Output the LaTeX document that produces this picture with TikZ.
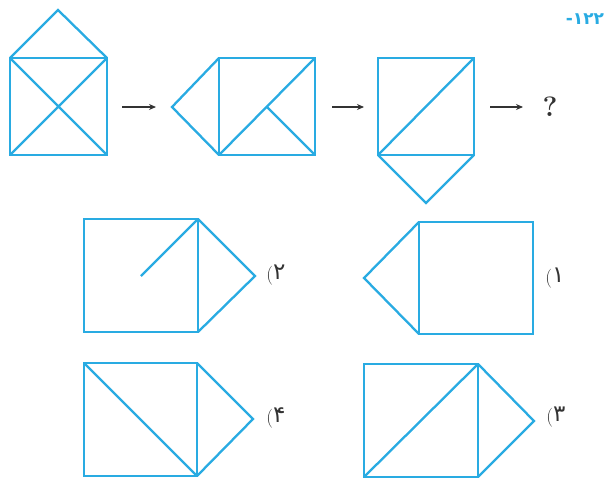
\documentclass[tikz,border=0pt]{standalone}
\usepackage{fontspec}
\newfontfamily\fadig{DejaVu Sans}
\usetikzlibrary{arrows.meta}
\definecolor{figblue}{HTML}{29ABE2}
\definecolor{darkgr}{HTML}{333333}
\newcommand{\optdig}[1]{(\raisebox{1pt}{\fadig\fontsize{23}{23}\selectfont #1}}
\tikzset{
  fig/.style={draw=figblue, line width=2.3pt, line join=miter},
  seqarrow/.style={draw=darkgr, line width=1.1pt, -{Stealth[length=7pt,width=6pt]}},
  optlabel/.style={text=darkgr, font=\fontsize{19}{19}\selectfont, inner sep=0pt},
}
\begin{document}
\begin{tikzpicture}[x=1pt,y=-1pt]
\useasboundingbox (0,0) rectangle (608,480);
% title
\node[text=figblue, font=\fadig\bfseries\fontsize{17}{17}\selectfont, inner sep=0pt] (title) at (585,19) {-۱۲۲};
% figure 1
\draw[fig] (10,58) rectangle (107,155);
\draw[fig] (10,58) -- (58,10) -- (107,58);
\draw[fig] (10,58) -- (107,155) (107,58) -- (10,155);
% figure 2
\draw[fig] (219,58) rectangle (315,155);
\draw[fig] (219,58) -- (172,107) -- (219,155);
\draw[fig] (219,155) -- (315,58) (267,107) -- (315,155);
% figure 3
\draw[fig] (378,58) rectangle (474,155);
\draw[fig] (378,155) -- (426,203) -- (474,155);
\draw[fig] (378,155) -- (474,58);
% arrows
\coordinate (a1s) at (122,107); \coordinate (a1e) at (156,107);
\coordinate (a2s) at (332,107); \coordinate (a2e) at (364,107);
\coordinate (a3s) at (490,107); \coordinate (a3e) at (523,107);
\draw[seqarrow] (a1s) -- (a1e);
\draw[seqarrow] (a2s) -- (a2e);
\draw[seqarrow] (a3s) -- (a3e);
\node[text=darkgr, font=\bfseries\fontsize{28}{28}\selectfont, inner sep=0pt] (q) at (550,107) {?};
% option 2
\draw[fig] (84,219) rectangle (198,332);
\draw[fig] (198,219) -- (255,276) -- (198,332);
\draw[fig] (141,276) -- (198,219);
\node[optlabel] (l2) at (276,275) {\optdig{۲}};
% option 1
\draw[fig] (419,222) rectangle (533,334);
\draw[fig] (419,222) -- (364,278) -- (419,334);
\node[optlabel] (l1) at (555,278) {\optdig{۱}};
% option 4
\draw[fig] (84,363) rectangle (197,476);
\draw[fig] (197,363) -- (253,419) -- (197,476);
\draw[fig] (84,363) -- (197,476);
\node[optlabel] (l4) at (276,418) {\optdig{۴}};
% option 3
\draw[fig] (364,364) rectangle (478,477);
\draw[fig] (478,364) -- (534,421) -- (478,477);
\draw[fig] (364,477) -- (478,364);
\node[optlabel] (l3) at (556,417) {\optdig{۳}};
\end{tikzpicture}
\end{document}
